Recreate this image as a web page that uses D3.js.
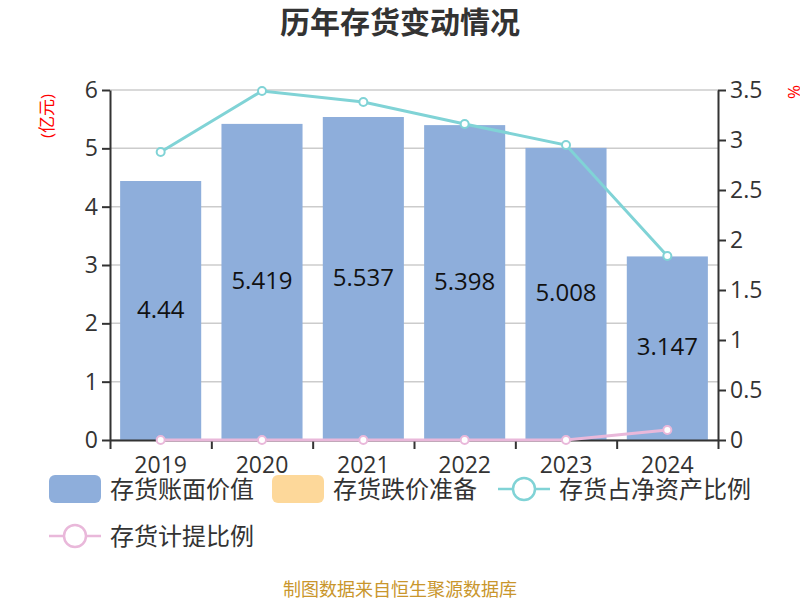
<!DOCTYPE html>
<html><head><meta charset="utf-8">
<script src="https://cdn.jsdelivr.net/npm/d3@7"></script>
<style>body{margin:0;background:#fff}svg{display:block}text{font-family:"Open Sans","Noto Sans CJK SC",sans-serif}</style>
</head><body><svg id="c" width="800" height="600"></svg>
<script>
const years = ["2019","2020","2021","2022","2023","2024"];
const bookValue = [4.44, 5.419, 5.537, 5.398, 5.008, 3.147];
const impairment = [0, 0, 0, 0, 0, 0];
const netAssetRatio = [2.88, 3.49, 3.38, 3.16, 2.95, 1.84];
const provisionRatio = [0, 0, 0, 0, 0, 0.10];
const leftTicks = [0,1,2,3,4,5,6];
const rightTicks = [0,0.5,1,1.5,2,2.5,3,3.5];

const svg = d3.select("#c");
const L = 110, R = 718, T = 90, B = 440;
const x = d3.scaleBand().domain(years).range([L, R]).paddingInner(0.2).paddingOuter(0.1);
const yL = d3.scaleLinear().domain([0, 6]).range([B, T]);
const yR = d3.scaleLinear().domain([0, 3.5]).range([B, T]);
const fcBar = "#8eaedb", fcOr = "#fdd89a", cyan = "#80d3d6", pink = "#e9b8da";

svg.append("text").attr("x", 400).attr("y", 33).attr("text-anchor", "middle")
  .attr("font-size", 30).attr("font-weight", "bold").attr("fill", "#333").text("历年存货变动情况");

// grid
svg.append("g").selectAll("line").data(leftTicks).join("line")
  .attr("x1", L).attr("x2", R).attr("y1", d => yL(d)).attr("y2", d => yL(d))
  .attr("stroke", "#ccc").attr("stroke-width", 1.5);

// bars
svg.append("g").selectAll("rect").data(years).join("rect")
  .attr("x", d => x(d)).attr("width", x.bandwidth())
  .attr("y", (d, i) => yL(bookValue[i])).attr("height", (d, i) => B - yL(bookValue[i]))
  .attr("fill", fcBar);
svg.append("g").selectAll("text").data(years).join("text")
  .attr("x", d => x(d) + x.bandwidth() / 2)
  .attr("y", (d, i) => (yL(bookValue[i]) + B) / 2 + 7)
  .attr("text-anchor", "middle").attr("font-size", 24).attr("fill", "#111")
  .text((d, i) => bookValue[i]);

// axes
const axL = svg.append("g").attr("transform", `translate(${L},0)`)
  .call(d3.axisLeft(yL).tickValues(leftTicks).tickSize(8).tickSizeOuter(0).tickFormat(d3.format("")));
const axR = svg.append("g").attr("transform", `translate(${R},0)`)
  .call(d3.axisRight(yR).tickValues(rightTicks).tickSize(8).tickSizeOuter(0).tickFormat(d3.format("")));
const xb = d3.scaleLinear().domain([0, 6]).range([L, R]);
const axB = svg.append("g").attr("transform", `translate(0,${B})`)
  .call(d3.axisBottom(xb).tickValues([0,1,2,3,4,5,6]).tickSize(9).tickSizeOuter(0).tickFormat(""));
[axL, axR, axB].forEach(a => {
  a.selectAll("path,line").attr("stroke", "#333").attr("stroke-width", 2);
  a.selectAll("text").attr("font-size", 23).attr("fill", "#333");
});
axL.selectAll("text").attr("x", -12);
axR.selectAll("text").attr("x", 12);
svg.append("g").selectAll("text").data(years).join("text")
  .attr("x", d => x(d) + x.bandwidth() / 2).attr("y", 473).attr("text-anchor", "middle")
  .attr("font-size", 23).attr("fill", "#333").text(d => d);

svg.append("text").attr("transform", "translate(53,116) rotate(-90)").attr("text-anchor", "middle")
  .attr("font-size", 17).attr("fill", "red").text("(亿元)");
svg.append("text").attr("transform", "translate(800,92) rotate(-90)").attr("text-anchor", "middle")
  .attr("font-size", 17).attr("fill", "red").text("%");

// lines
function drawLine(vals, col) {
  const line = d3.line().x((d, i) => x(years[i]) + x.bandwidth() / 2).y(d => yR(d));
  svg.append("path").datum(vals).attr("d", line).attr("fill", "none").attr("stroke", col).attr("stroke-width", 3);
  svg.append("g").selectAll("circle").data(vals).join("circle")
    .attr("cx", (d, i) => x(years[i]) + x.bandwidth() / 2).attr("cy", d => yR(d)).attr("r", 4)
    .attr("fill", "#fff").attr("stroke", col).attr("stroke-width", 2);
}
drawLine(netAssetRatio, cyan);
drawLine(provisionRatio, pink);

// legend
const lg = svg.append("g");
const items = [
  {t: "存货账面价值", type: "rect", c: fcBar, x: 49, y: 489},
  {t: "存货跌价准备", type: "rect", c: fcOr, x: 272, y: 489},
  {t: "存货占净资产比例", type: "line", c: cyan, x: 498, y: 489},
  {t: "存货计提比例", type: "line", c: pink, x: 49, y: 536}
];
items.forEach(it => {
  if (it.type === "rect") {
    lg.append("rect").attr("x", it.x).attr("y", it.y - 14).attr("width", 52).attr("height", 28)
      .attr("rx", 6).attr("fill", it.c);
  } else {
    lg.append("line").attr("x1", it.x).attr("x2", it.x + 52).attr("y1", it.y).attr("y2", it.y)
      .attr("stroke", it.c).attr("stroke-width", 2.5);
    lg.append("circle").attr("cx", it.x + 26).attr("cy", it.y).attr("r", 11)
      .attr("fill", "#fff").attr("stroke", it.c).attr("stroke-width", 2.5);
  }
  lg.append("text").attr("x", it.x + 61).attr("y", it.y + 9).attr("font-size", 24)
    .attr("fill", "#333").text(it.t);
});

svg.append("text").attr("x", 400).attr("y", 596).attr("text-anchor", "middle")
  .attr("font-size", 18).attr("fill", "#c9962c").text("制图数据来自恒生聚源数据库");
</script></body></html>
